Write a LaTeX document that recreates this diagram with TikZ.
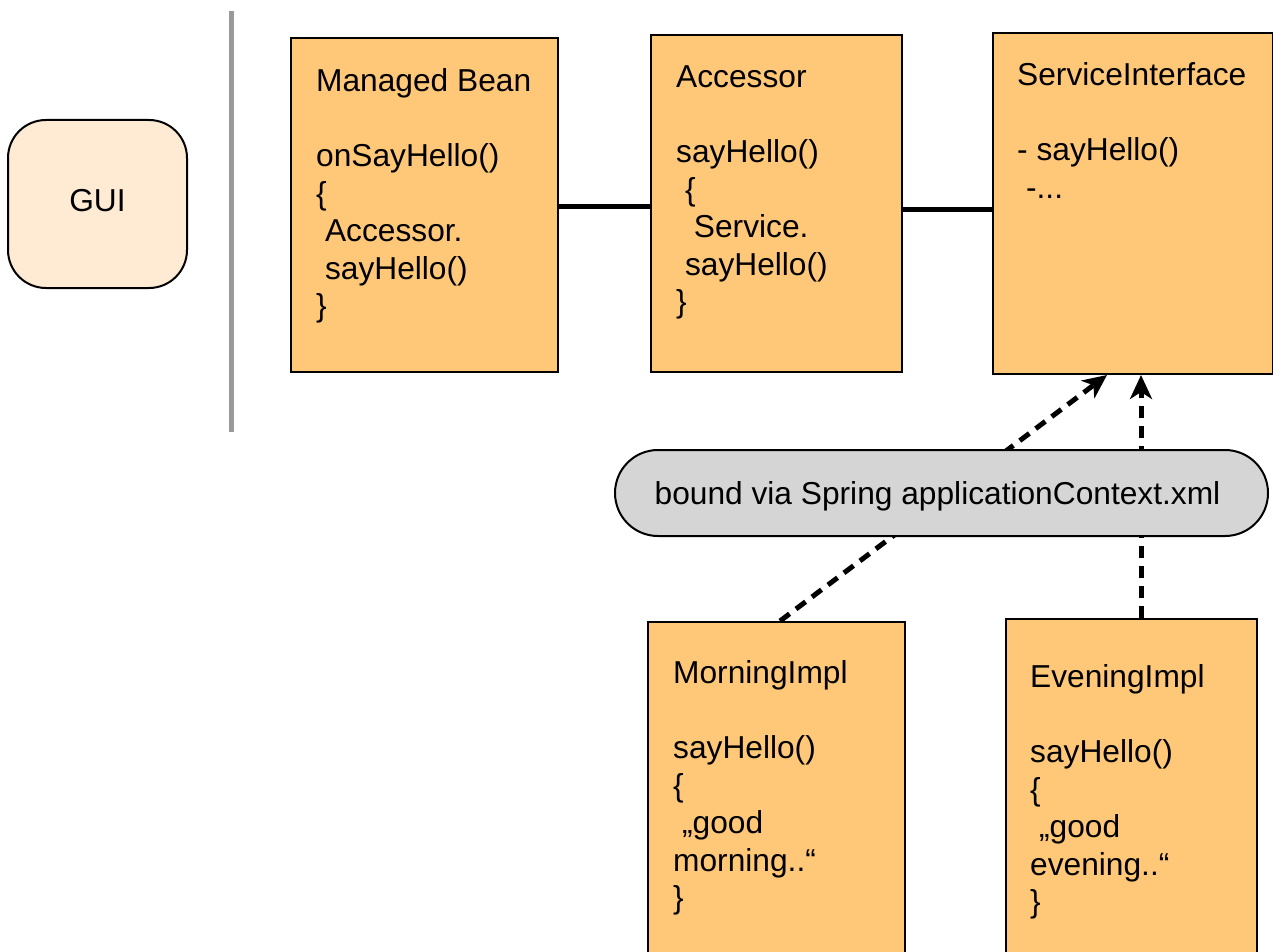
\documentclass[tikz,border=0pt]{standalone}
\usepackage{fontspec}
\setmainfont{Liberation Sans}
\usetikzlibrary{arrows.meta}

\definecolor{beanfill}{HTML}{FFC878}
\definecolor{guifill}{HTML}{FFEBD4}
\definecolor{pillfill}{HTML}{D5D5D5}
\definecolor{rulegray}{HTML}{999999}

\newcommand{\codefont}{\fontsize{31.7}{37.5}\selectfont}
\newcommand{\ind}{\hspace*{0.28em}}

\tikzset{
  classbox/.style={draw=black, line width=2pt, fill=beanfill, anchor=north west,
                   inner sep=0pt},
  code/.style={anchor=north west, inner sep=0pt, align=left, font=\codefont},
  link/.style={line width=5pt},
  wiring/.style={line width=5pt, dash pattern=on 12pt off 8pt,
                 -{Stealth[length=24pt,width=22pt,inset=7pt]}},
}

\begin{document}
\begin{tikzpicture}[x=1pt,y=-1pt]
\clip (0,0) rectangle (1273,952);

% GUI block and separator
\node[draw=black, line width=2pt, fill=guifill, rounded corners=38pt,
      minimum width=179pt, minimum height=168pt, font=\codefont,
      text depth=8pt] (gui) at (97.5,204) {GUI};
\coordinate (sepTop) at (231,11);
\coordinate (sepBot) at (231,432);
\draw[rulegray, line width=5pt] (sepTop) -- (sepBot);

% class boxes
\node[classbox, minimum width=267pt, minimum height=334pt] (mb) at (290,37) {};
\node[classbox, minimum width=251pt, minimum height=337pt] (acc) at (650,34) {};
\node[classbox, minimum width=280pt, minimum height=341pt] (si) at (992,32) {};
\node[classbox, minimum width=257pt, minimum height=360pt] (mi) at (647,621) {};
\node[classbox, minimum width=251pt, minimum height=360pt] (ev) at (1005,618) {};

% box contents
\node[code] (mbt) at (316,68.5) {Managed Bean\\ \\onSayHello()\\\{\\\ind Accessor.\\\ind sayHello()\\\}};
\node[code] (acct) at (676,65.5) {Accessor\\ \\sayHello()\\\ind\{\\\ind\ind Service.\\\ind sayHello()\\\}};
\node[code] (sit) at (1017,62.5) {ServiceInterface\\ \\- sayHello()\\\ind -...};
\node[code] (mit) at (673,660.5) {MorningImpl\\ \\sayHello()\\\{\\\ind „good\\morning..“\\\}};
\node[code] (evt) at (1030,664.5) {EveningImpl\\ \\sayHello()\\\{\\\ind „good\\evening..“\\\}};

% call chain
\draw[link] ([yshift=-1pt]mb.east) -- ([yshift=-1pt]acc.west |- mb.east);
\draw[link] ([yshift=-5.5pt]acc.east) -- ([yshift=-5.5pt]si.west);

% implementations bound to the interface
\draw[wiring] ([xshift=133pt]mi.north west) -- ([xshift=115pt]si.south west);
\draw[wiring] ([xshift=136pt]ev.north west) -- ([xshift=149pt]si.south west);

\node[draw=black, line width=2pt, fill=pillfill, rounded corners=43pt,
      minimum width=653pt, minimum height=86pt, font=\codefont,
      text depth=0pt] (spring) at (941.5,493)
      {\hspace*{-8pt}bound via Spring applicationContext.xml};
\end{tikzpicture}
\end{document}
